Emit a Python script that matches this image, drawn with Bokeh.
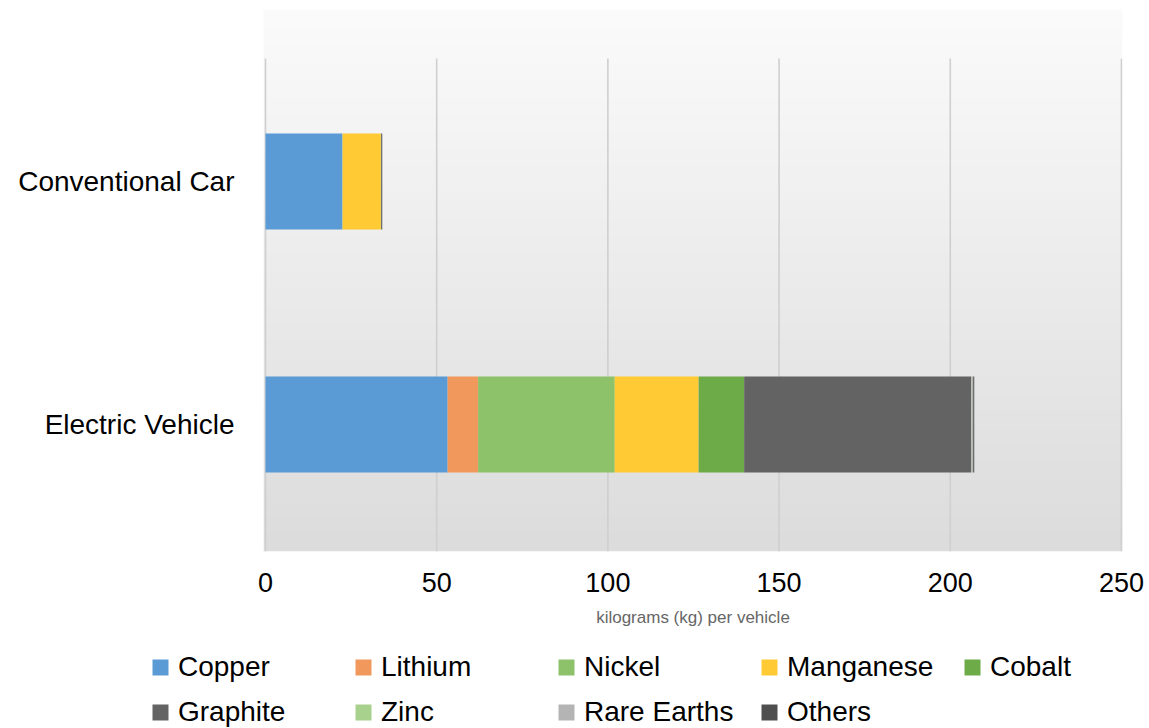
import numpy as np
from bokeh.plotting import figure
from bokeh.layouts import column
from bokeh.models import ColumnDataSource, Legend, LegendItem, FixedTicker, Range1d
from bokeh.embed import file_html
from bokeh.resources import INLINE

# ---- data ----
vehicles = ["Electric Vehicle", "Conventional Car"]
vehicle_pos = [1, 2]
minerals = ["Copper", "Lithium", "Nickel", "Manganese", "Cobalt",
            "Graphite", "Zinc", "Rare Earths", "Others"]
copper = [53.2, 22.5]
lithium = [8.9, 0.0]
nickel = [39.9, 0.0]
manganese = [24.5, 11.2]
cobalt = [13.3, 0.0]
graphite = [66.3, 0.0]
zinc = [0.1, 0.1]
rare_earths = [0.5, 0.0]
others = [0.3, 0.3]
x_ticks = [0, 50, 100, 150, 200, 250]

colors = ["#5B9BD5", "#F1985C", "#8DC16A", "#FFCA33", "#6DAA48",
          "#636363", "#A9D18E", "#B4B4B4", "#4F4F4F"]

FONT = "Liberation Sans"

source = ColumnDataSource(data=dict(
    y=vehicle_pos,
    Copper=copper, Lithium=lithium, Nickel=nickel, Manganese=manganese,
    Cobalt=cobalt, Graphite=graphite, Zinc=zinc, **{"Rare Earths": rare_earths},
    Others=others,
))

x0, x1 = -0.58, 250.3
y0, y1 = 0.477, 2.708
grid_top = 2.506

p = figure(width=1149, height=645, output_backend="svg", toolbar_location=None,
           x_range=Range1d(x0, x1), y_range=Range1d(y0, y1),
           min_border_left=263, min_border_right=27, min_border_top=9,
           min_border_bottom=94)
p.frame_align = False
p.outline_line_color = None
p.background_fill_color = "white"
p.border_fill_color = "white"
p.xgrid.visible = False
p.ygrid.visible = False

# gradient plot-area background
n = 200
t = np.linspace(0, 1, n)  # 0 bottom -> 1 top
top_c = np.array([251, 251, 251])
bot_c = np.array([220, 220, 220])
img = np.empty((n, 1), dtype=np.uint32)
view = img.view(dtype=np.uint8).reshape((n, 1, 4))
for i in range(n):
    c = bot_c + (top_c - bot_c) * t[i]
    view[i, 0, 0] = int(c[0]); view[i, 0, 1] = int(c[1]); view[i, 0, 2] = int(c[2]); view[i, 0, 3] = 255
p.image_rgba(image=[img], x=x0, y=y0, dw=x1 - x0, dh=y1 - y0)

# grid lines
p.segment(x0=x_ticks, y0=[y0] * len(x_ticks), x1=x_ticks, y1=[grid_top] * len(x_ticks),
          line_color="#CFCFCF", line_width=1.6)

renderers = p.hbar_stack(minerals, y="y", height=0.395, color=colors, source=source,
                         line_width=0)

# axes
p.xaxis.ticker = FixedTicker(ticks=x_ticks)
p.xaxis.axis_line_color = None
p.xaxis.major_tick_line_color = None
p.xaxis.minor_tick_line_color = None
p.xaxis.major_label_text_font = FONT
p.xaxis.major_label_text_font_size = "27px"
p.xaxis.major_label_text_color = "#000000"
p.xaxis.major_label_standoff = 15
p.xaxis.axis_label = "kilograms (kg) per vehicle"
p.xaxis.axis_label_text_font = FONT
p.xaxis.axis_label_text_font_size = "17px"
p.xaxis.axis_label_text_font_style = "normal"
p.xaxis.axis_label_text_color = "#666666"
p.xaxis.axis_label_standoff = 13

p.yaxis.ticker = FixedTicker(ticks=vehicle_pos)
p.yaxis.major_label_overrides = {pos: name for pos, name in zip(vehicle_pos, vehicles)}
p.yaxis.axis_line_color = None
p.yaxis.major_tick_line_color = None
p.yaxis.minor_tick_line_color = None
p.yaxis.major_label_text_font = FONT
p.yaxis.major_label_text_font_size = "28px"
p.yaxis.major_label_text_color = "#000000"
p.yaxis.major_label_standoff = 23

# ---- legend figure below ----
lf = figure(width=1149, height=83, output_backend="svg", toolbar_location=None,
            x_range=Range1d(0, 1), y_range=Range1d(0, 1),
            min_border_left=0, min_border_right=0, min_border_top=0, min_border_bottom=0)
lf.frame_align = False
lf.axis.visible = False
lf.grid.visible = False
lf.outline_line_color = None
lf.background_fill_color = "white"
lf.border_fill_color = "white"

# legend swatches (kept outside the visible range of the legend strip)
icons = [lf.hbar(y=[-5], left=[0], right=[1], height=0.5, color=colors[i], line_width=0)
         for i in range(len(minerals))]

def make_legend(idx, loc):
    items = [LegendItem(label=minerals[i], renderers=[icons[i]]) for i in idx]
    lg = Legend(items=items, orientation="horizontal", location=loc)
    lg.label_text_font = FONT
    lg.label_text_font_size = "28px"
    lg.label_text_color = "#000000"
    lg.glyph_width = 20
    lg.glyph_height = 20
    lg.label_height = 32
    lg.label_standoff = 8
    lg.label_width = 160
    lg.spacing = 15
    lg.padding = 0
    lg.margin = 0
    lg.background_fill_alpha = 0
    lg.border_line_color = None
    return lg

lf.add_layout(make_legend([0, 1, 2, 3, 4], (150, 45)), "center")
lf.add_layout(make_legend([5, 6, 7, 8], (150, 0)), "center")

layout = column(p, lf, spacing=0)
open("out.html", "w").write(file_html(layout, INLINE))
